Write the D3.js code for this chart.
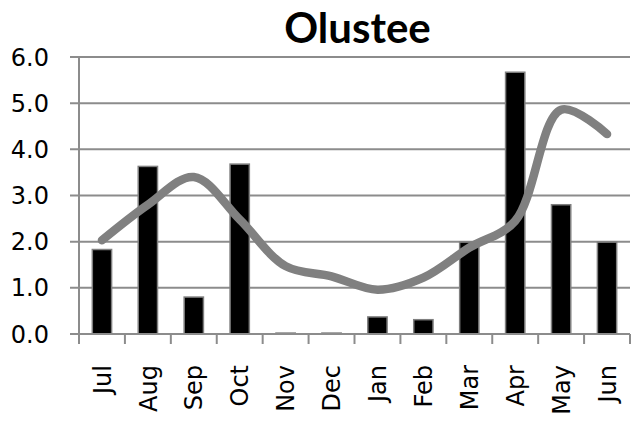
<!DOCTYPE html>
<html>
<head>
<meta charset="utf-8">
<script src="https://cdn.jsdelivr.net/npm/d3@7"></script>
<style>
  body { margin: 0; background: #fff; }
  svg { display: block; }
</style>
</head>
<body>
<div id="chart"></div>
<script>
const months = ['Jul', 'Aug', 'Sep', 'Oct', 'Nov', 'Dec', 'Jan', 'Feb', 'Mar', 'Apr', 'May', 'Jun'];
const rainfall = [1.83, 3.63, 0.80, 3.68, 0.02, 0.02, 0.37, 0.31, 1.99, 5.67, 2.80, 1.99];
const normal = [2.03, 2.80, 3.40, 2.48, 1.47, 1.25, 0.96, 1.22, 1.87, 2.45, 4.86, 4.33];
const yTicks = [0, 1, 2, 3, 4, 5, 6];

const width = 631, height = 424;
const margin = { top: 57, right: 1, bottom: 90, left: 79 };
const innerW = width - margin.left - margin.right;
const innerH = height - margin.top - margin.bottom;

const svg = d3.select('#chart').append('svg')
  .attr('width', width)
  .attr('height', height);

svg.append('text')
  .attr('x', margin.left + innerW / 2 + 3)
  .attr('y', 43)
  .attr('text-anchor', 'middle')
  .style('font-family', 'Lato, "Open Sans", sans-serif')
  .style('font-weight', 'bold')
  .style('font-size', '42px')
  .text('Olustee');

const g = svg.append('g')
  .attr('transform', `translate(${margin.left},${margin.top})`);

const x = d3.scaleBand().domain(months).range([0, innerW]);
const y = d3.scaleLinear().domain([0, 6]).range([innerH, 0]);

// gridlines
g.selectAll('.grid')
  .data(yTicks)
  .enter().append('line')
  .attr('class', 'grid')
  .attr('x1', -9)
  .attr('x2', innerW)
  .attr('y1', d => y(d))
  .attr('y2', d => y(d))
  .style('stroke', '#8c8c8c')
  .style('stroke-width', 2);

// y labels
g.selectAll('.ylab')
  .data(yTicks)
  .enter().append('text')
  .attr('class', 'ylab')
  .attr('x', -30)
  .attr('y', d => y(d))
  .attr('dy', '0.36em')
  .attr('text-anchor', 'end')
  .style('font-family', '"DejaVu Sans", sans-serif')
  .style('font-size', '24px')
  .text(d => d.toFixed(1));

// bars
g.selectAll('.bar')
  .data(rainfall)
  .enter().append('rect')
  .attr('class', 'bar')
  .attr('x', (d, i) => x(months[i]) + x.bandwidth() * 0.29)
  .attr('width', x.bandwidth() * 0.42)
  .attr('y', d => y(d))
  .attr('height', d => innerH - y(d))
  .style('fill', '#000')
  .style('stroke', '#7f7f7f')
  .style('stroke-width', 1.5);

// y axis line
g.append('line')
  .attr('x1', 0).attr('x2', 0)
  .attr('y1', 0).attr('y2', innerH + 10)
  .style('stroke', '#8c8c8c')
  .style('stroke-width', 2);

// x axis
const xAxis = g.append('g')
  .attr('transform', `translate(0,${innerH})`);

xAxis.append('line')
  .attr('x1', -9).attr('x2', innerW)
  .style('stroke', '#8c8c8c')
  .style('stroke-width', 2);

const bounds = months.map(m => x(m)).concat([innerW]);
xAxis.selectAll('.tick')
  .data(bounds)
  .enter().append('line')
  .attr('x1', d => d).attr('x2', d => d)
  .attr('y1', 0).attr('y2', 10)
  .style('stroke', '#8c8c8c')
  .style('stroke-width', 2);

xAxis.selectAll('.xlab')
  .data(months)
  .enter().append('text')
  .attr('class', 'xlab')
  .attr('transform', d => `translate(${x(d) + x.bandwidth() / 2},31) rotate(-90)`)
  .attr('dy', '0.36em')
  .attr('text-anchor', 'end')
  .style('font-family', '"DejaVu Sans", sans-serif')
  .style('font-size', '24px')
  .text(d => d);

// smoothed line
const line = d3.line()
  .x((d, i) => x(months[i]) + x.bandwidth() / 2)
  .y(d => y(d))
  .curve(d3.curveCatmullRom.alpha(0.5));

g.append('path')
  .datum(normal)
  .attr('d', line)
  .style('fill', 'none')
  .style('stroke', '#808080')
  .style('stroke-width', 8.5)
  .style('stroke-linecap', 'round')
  .style('stroke-linejoin', 'round');
</script>
</body>
</html>
